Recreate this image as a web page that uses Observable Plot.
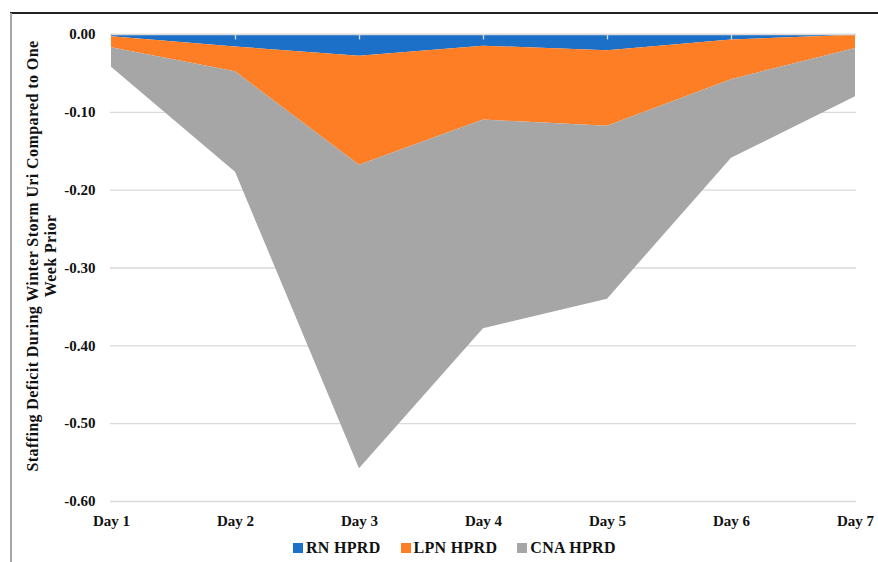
<!DOCTYPE html>
<html>
<head>
<meta charset="utf-8">
<script src="https://cdn.jsdelivr.net/npm/d3@7"></script>
<script src="https://cdn.jsdelivr.net/npm/@observablehq/plot@0.6"></script>
<style>
  html, body { margin: 0; padding: 0; background: #fff; }
  #wrap { position: relative; width: 878px; height: 562px; overflow: hidden; font-family: "Liberation Serif", "Times New Roman", serif; }
  #topline { position: absolute; left: 10px; right: 0; top: 12px; height: 0; border-top: 2px solid #222; }
  #leftline { position: absolute; left: 10px; top: 13px; bottom: 0; width: 0; border-left: 2px solid #a8a8a8; }
  #chart { position: absolute; left: 0; top: 0; }
  #ytitle { position: absolute; left: -198px; top: 238px; width: 480px; height: 36px; transform: rotate(-90deg); transform-origin: 50% 50%; text-align: center; font-weight: bold; font-size: 16px; line-height: 18px; letter-spacing: 0.4px; color: #111; white-space: pre; }
  #legend { position: absolute; left: 293px; top: 540px; display: flex; align-items: center; gap: 20px; font-weight: bold; font-size: 16px; letter-spacing: 0.3px; color: #111; line-height: 16px; }
  #legend .item { display: flex; align-items: center; gap: 3px; }
  #legend .sw { width: 10px; height: 10px; display: inline-block; }
</style>
</head>
<body>
<div id="wrap">
  <div id="chart"></div>
  <div id="topline"></div>
  <div id="leftline"></div>
  <div id="ytitle"></div>
  <div id="legend"></div>
</div>
<script>
// Categories (x axis)
const days = ["Day 1", "Day 2", "Day 3", "Day 4", "Day 5", "Day 6", "Day 7"];
// Series names and colours
const seriesNames = ["RN HPRD", "LPN HPRD", "CNA HPRD"];
const seriesColors = ["#1c70c8", "#fd7e24", "#a6a6a6"];
// Series values (each series' own contribution, stacked downward)
const rnValues  = [-0.003, -0.016, -0.028, -0.015, -0.021, -0.007, -0.001];
const lpnValues = [-0.014, -0.032, -0.140, -0.095, -0.097, -0.051, -0.017];
const cnaValues = [-0.025, -0.129, -0.390, -0.268, -0.222, -0.101, -0.062];
// Y tick values
const yTicks = [0, -0.1, -0.2, -0.3, -0.4, -0.5, -0.6];
const yTitleLines = ["Staffing Deficit During Winter Storm Uri Compared to One", "Week Prior"];

const seriesValues = [rnValues, lpnValues, cnaValues];
const data = [];
seriesNames.forEach((s, si) => {
  days.forEach((d, di) => data.push({ day: d, series: s, value: seriesValues[si][di] }));
});

const chart = Plot.plot({
  width: 878,
  height: 530,
  marginTop: 34,
  marginBottom: 29,
  marginLeft: 110,
  marginRight: 22,
  style: { fontFamily: "'Liberation Serif', 'Times New Roman', serif", fontSize: "15px", fontWeight: "bold", color: "#111", background: "transparent" },
  x: { type: "point", domain: days, padding: 0, label: null },
  y: { domain: [-0.6, 0], label: null },
  color: { domain: seriesNames, range: seriesColors },
  marks: [
    Plot.ruleY(yTicks, { stroke: "#d9d9d9", strokeWidth: 1.3 }),
    Plot.areaY(data, { x: "day", y: "value", fill: "series", z: "series", order: null }),
    Plot.ruleY([0], { stroke: "#d9d9d9", strokeWidth: 1.3 }),
    Plot.ruleX(days.slice(1, -1), { x: d => d, y1: 0, y2: -0.007, stroke: "#d9d9d9", strokeWidth: 1.3 }),
    Plot.axisY({ ticks: yTicks, tickSize: 0, tickPadding: 15, tickFormat: d => d.toFixed(2), label: null }),
    Plot.axisX({ tickSize: 0, tickPadding: 14, label: null })
  ]
});
document.getElementById("chart").appendChild(chart);

document.getElementById("ytitle").textContent = yTitleLines.join("\n");

const legend = document.getElementById("legend");
seriesNames.forEach((s, i) => {
  const item = document.createElement("div");
  item.className = "item";
  const sw = document.createElement("span");
  sw.className = "sw";
  sw.style.background = seriesColors[i];
  const t = document.createElement("span");
  t.textContent = s;
  item.appendChild(sw);
  item.appendChild(t);
  legend.appendChild(item);
});
</script>
</body>
</html>
